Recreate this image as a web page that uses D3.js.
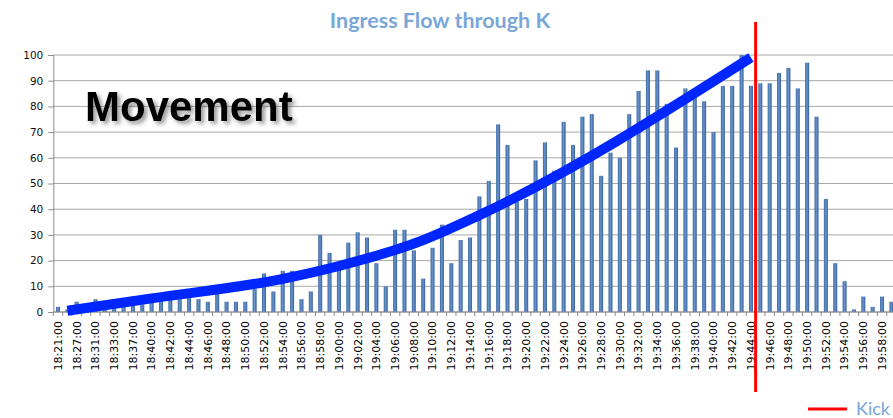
<!DOCTYPE html>
<html>
<head>
<meta charset="utf-8">
<script src="https://cdn.jsdelivr.net/npm/d3@7"></script>
<style>
  html, body { margin: 0; padding: 0; background: #fff; overflow: hidden; }
  svg { display: block; }
</style>
</head>
<body>
<svg id="chart" width="893" height="418"></svg>
<script>
// ---------------- data ----------------
const title = "Ingress Flow through K";
const categories = [
  "18:21:00","18:24:00","18:27:00","18:29:00","18:31:00","18:32:00","18:33:00","18:35:00","18:37:00","18:39:00",
  "18:40:00","18:41:00","18:42:00","18:43:00","18:44:00","18:45:00","18:46:00","18:47:00","18:48:00","18:49:00",
  "18:50:00","18:51:00","18:52:00","18:53:00","18:54:00","18:55:00","18:56:00","18:57:00","18:58:00","18:59:00",
  "19:00:00","19:01:00","19:02:00","19:03:00","19:04:00","19:05:00","19:06:00","19:07:00","19:08:00","19:09:00",
  "19:10:00","19:11:00","19:12:00","19:13:00","19:14:00","19:15:00","19:16:00","19:17:00","19:18:00","19:19:00",
  "19:20:00","19:21:00","19:22:00","19:23:00","19:24:00","19:25:00","19:26:00","19:27:00","19:28:00","19:29:00",
  "19:30:00","19:31:00","19:32:00","19:33:00","19:34:00","19:35:00","19:36:00","19:37:00","19:38:00","19:39:00",
  "19:40:00","19:41:00","19:42:00","19:43:00","19:44:00","19:45:00","19:46:00","19:47:00","19:48:00","19:49:00",
  "19:50:00","19:51:00","19:52:00","19:53:00","19:54:00","19:55:00","19:56:00","19:57:00","19:58:00","19:59:00"
];
const flow = [
  2,1,4,1,5,2,2,3,6,3,
  4,5,5,5,6,5,4,7,4,4,
  4,9,15,8,16,16,5,8,30,23,
  17,27,31,29,19,10,32,32,24,13,
  25,34,19,28,29,45,51,73,65,43,
  44,59,66,55,74,65,76,77,53,62,
  60,77,86,94,94,81,64,87,87,82,
  70,88,88,100,88,89,89,93,95,87,
  97,76,44,19,12,1,6,2,6,4
];
const tickLabels = [
  "18:21:00","18:27:00","18:31:00","18:33:00","18:37:00","18:40:00","18:42:00","18:44:00","18:46:00","18:48:00",
  "18:50:00","18:52:00","18:54:00","18:56:00","18:58:00","19:00:00","19:02:00","19:04:00","19:06:00","19:08:00",
  "19:10:00","19:12:00","19:14:00","19:16:00","19:18:00","19:20:00","19:22:00","19:24:00","19:26:00","19:28:00",
  "19:30:00","19:32:00","19:34:00","19:36:00","19:38:00","19:40:00","19:42:00","19:44:00","19:46:00","19:48:00",
  "19:50:00","19:52:00","19:54:00","19:56:00","19:58:00"
];
const yTicks = [0,10,20,30,40,50,60,70,80,90,100];
// hand-drawn "Movement" trend overlay
const movementTimes = ["18:24:00","18:40:00","18:54:00","19:00:00","19:09:00","19:15:00","19:44:00"];
const movementValues = [0.5, 5.3, 12.9, 17.9, 28.0, 37.7, 99];
const kickoffTime = "19:44:00";   // red marker sits half a slot after this minute
const kickoffLabel = "Kick";
const annotation = "Movement";

// ---------------- drawing ----------------
const svg = d3.select("#chart");
const plotLeft = 53.3, plotRight = 896.1, plotTop = 55, plotBottom = 312;

const x = d3.scaleBand().domain(categories)
  .range([plotLeft, plotRight]).paddingInner(0.57).paddingOuter(0.285);
const y = d3.scaleLinear().domain([0, 100]).range([plotBottom, plotTop]);
const step = x.step();
const cx = c => x(c) + x.bandwidth() / 2;

const defs = svg.append("defs");
const grad = defs.append("linearGradient").attr("id", "barGrad")
  .attr("x1", "0%").attr("x2", "100%").attr("y1", "0%").attr("y2", "0%");
grad.append("stop").attr("offset", "0%").attr("stop-color", "#3a67a1");
grad.append("stop").attr("offset", "45%").attr("stop-color", "#6893cc");
grad.append("stop").attr("offset", "100%").attr("stop-color", "#375f96");

const shadow = defs.append("filter").attr("id", "txtShadow")
  .attr("x", "-10%").attr("y", "-30%").attr("width", "130%").attr("height", "180%");
shadow.append("feDropShadow").attr("dx", 3).attr("dy", 3).attr("stdDeviation", 2.2)
  .attr("flood-color", "#444").attr("flood-opacity", 0.55);

// gridlines
svg.append("g").selectAll("line").data(yTicks).join("line")
  .attr("x1", plotLeft).attr("x2", plotRight)
  .attr("y1", d => y(d)).attr("y2", d => y(d))
  .attr("stroke", "#a8a8a8").attr("stroke-width", 1);

// y axis
const yAxis = svg.append("g").attr("transform", `translate(${plotLeft},0)`)
  .call(d3.axisLeft(y).tickValues(yTicks).tickSize(5).tickPadding(5));
yAxis.select(".domain").attr("stroke", "#8c8c8c");
yAxis.selectAll(".tick line").attr("stroke", "#8c8c8c");
yAxis.selectAll("text").attr("font-family", "DejaVu Sans").attr("font-size", "10.5px").attr("fill", "#111");

// bars
svg.append("g").selectAll("rect").data(categories).join("rect")
  .attr("x", d => x(d))
  .attr("width", x.bandwidth())
  .attr("y", (d, i) => y(flow[i]))
  .attr("height", (d, i) => y(0) - y(flow[i]))
  .attr("fill", "url(#barGrad)");

// x axis
const xAxis = svg.append("g").attr("transform", `translate(0,${plotBottom})`)
  .call(d3.axisBottom(x).tickValues(tickLabels).tickSize(0).tickPadding(0));
xAxis.select(".domain").remove();
xAxis.selectAll("text")
  .attr("font-family", "DejaVu Sans").attr("font-size", "11px").attr("fill", "#000")
  .attr("transform", "rotate(-90)")
  .attr("text-anchor", "end")
  .attr("x", -9).attr("y", 0).attr("dy", "0.35em");
svg.append("line").attr("x1", plotLeft).attr("x2", plotRight)
  .attr("y1", plotBottom).attr("y2", plotBottom).attr("stroke", "#8c8c8c");
svg.append("g").selectAll("line").data(categories).join("line")
  .attr("x1", d => cx(d) - step / 2).attr("x2", d => cx(d) - step / 2)
  .attr("y1", plotBottom).attr("y2", plotBottom + 4)
  .attr("stroke", "#8c8c8c");

// movement overlay
const line = d3.line().x(d => cx(d[0])).y(d => y(d[1])).curve(d3.curveMonotoneX);
svg.append("path")
  .datum(movementTimes.map((t, i) => [t, movementValues[i]]))
  .attr("d", line)
  .attr("fill", "none").attr("stroke", "#0026ff").attr("stroke-width", 10)
  .attr("stroke-linejoin", "round");

// kick-off marker
const kx = cx(kickoffTime) + step / 2;
svg.append("line").attr("x1", kx).attr("x2", kx).attr("y1", 22).attr("y2", 392)
  .attr("stroke", "#ff0000").attr("stroke-width", 3);

// title
svg.append("text").attr("x", 440).attr("y", 28).attr("text-anchor", "middle")
  .attr("font-family", "Lato").attr("font-weight", "bold").attr("font-size", "21.5px")
  .attr("fill", "#7aa6d8").text(title);

// annotation
svg.append("text").attr("x", 85).attr("y", 121)
  .attr("font-family", "Liberation Sans").attr("font-weight", "bold").attr("font-size", "42px")
  .attr("fill", "#000").attr("filter", "url(#txtShadow)").text(annotation);

// legend
svg.append("line").attr("x1", 808).attr("x2", 847).attr("y1", 409).attr("y2", 409)
  .attr("stroke", "#ff0000").attr("stroke-width", 3);
svg.append("text").attr("x", 856).attr("y", 415)
  .attr("font-family", "Lato").attr("font-size", "18px").attr("fill", "#7aa6d8").text(kickoffLabel);
</script>
</body>
</html>
